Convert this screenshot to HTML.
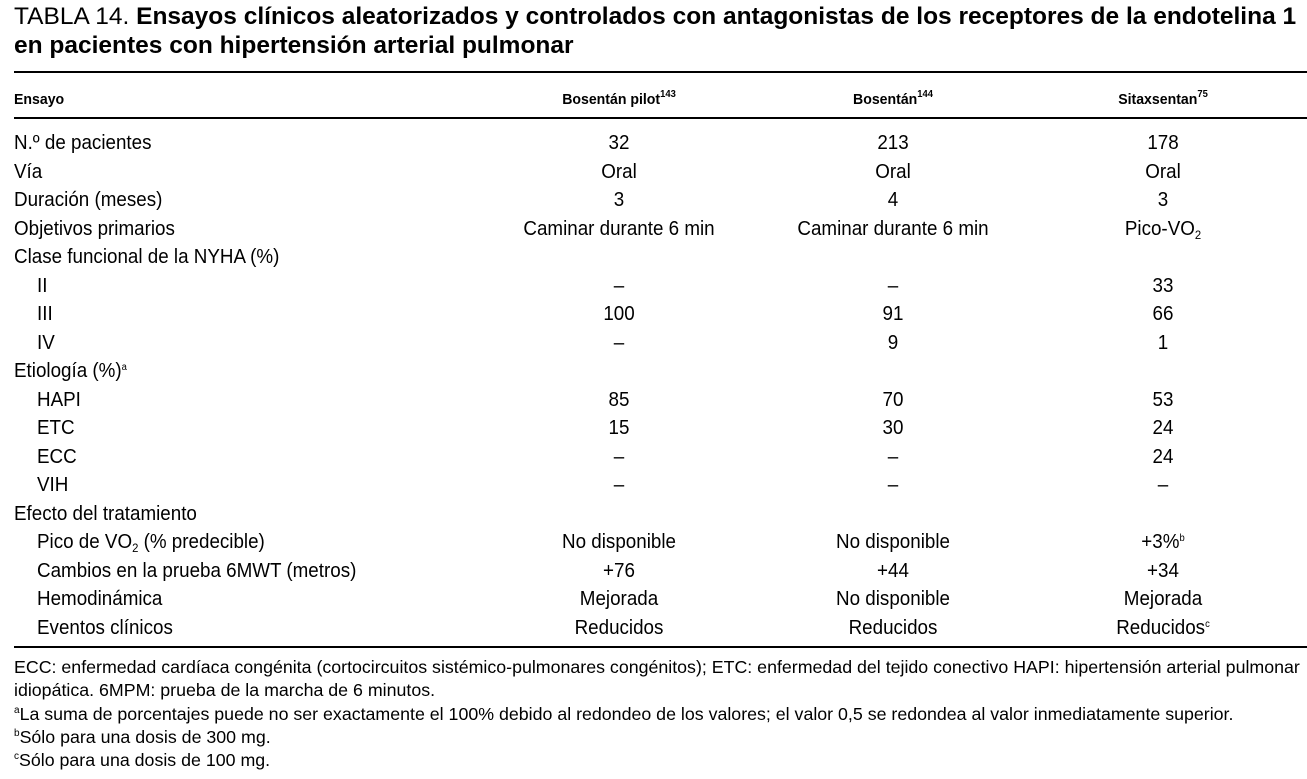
<!DOCTYPE html>
<html><head><meta charset="utf-8"><style>
body{margin:0;width:1307px;height:779px;background:#fff;overflow:hidden;position:relative;font-family:"Liberation Sans Narrow","Liberation Sans",sans-serif;color:#000}
.t{position:absolute;white-space:nowrap;font-size:20px;line-height:22px;transform-origin:left center;transform:scaleX(.94)}
.c{transform:translateX(-50%) scaleX(.94);transform-origin:center center}
.h{font-weight:bold;font-size:15px}
.rule{position:absolute;left:14px;right:0;height:2px;background:#000}
sup{font-size:10px;vertical-align:7px;line-height:0}
sub{font-size:12px;vertical-align:-4px;line-height:0}
.f{font-size:17.8px;transform:none}
.ti{font-family:'Liberation Sans',sans-serif;font-size:24.5px;transform:none}
</style></head><body>
<div class="t ti" style="left:14px;top:6px">TABLA 14. <b>Ensayos clínicos aleatorizados y controlados con antagonistas de los receptores de la endotelina 1</b></div>
<div class="t ti" style="left:14px;top:35px;font-weight:bold">en pacientes con hipertensión arterial pulmonar</div>
<div class="rule" style="top:71px"></div>
<div class="t h" style="left:14px;top:89px">Ensayo</div>
<div class="t h c" style="left:619px;top:89px">Bosentán pilot<sup>143</sup></div>
<div class="t h c" style="left:893px;top:89px">Bosentán<sup>144</sup></div>
<div class="t h c" style="left:1163px;top:89px">Sitaxsentan<sup>75</sup></div>
<div class="rule" style="top:117px"></div>
<div id="rows"></div>
<div class="rule" style="top:646px"></div>
<div class="t f" style="left:14px;top:656px">ECC: enfermedad cardíaca congénita (cortocircuitos sistémico-pulmonares congénitos); ETC: enfermedad del tejido conectivo HAPI: hipertensión arterial pulmonar</div>
<div class="t f" style="left:14px;top:679px">idiopática. 6MPM: prueba de la marcha de 6 minutos.</div>
<div class="t f" style="left:14px;top:703px"><sup>a</sup>La suma de porcentajes puede no ser exactamente el 100% debido al redondeo de los valores; el valor 0,5 se redondea al valor inmediatamente superior.</div>
<div class="t f" style="left:14px;top:726px"><sup>b</sup>Sólo para una dosis de 300 mg.</div>
<div class="t f" style="left:14px;top:749px"><sup>c</sup>Sólo para una dosis de 100 mg.</div>
<script>
const rows=[
["N.º de pacientes",0,"32","213","178"],
["Vía",0,"Oral","Oral","Oral"],
["Duración (meses)",0,"3","4","3"],
["Objetivos primarios",0,"Caminar durante 6 min","Caminar durante 6 min","Pico-VO<sub>2</sub>"],
["Clase funcional de la NYHA (%)",0,"","",""],
["II",1,"–","–","33"],
["III",1,"100","91","66"],
["IV",1,"–","9","1"],
["Etiología (%)<sup>a</sup>",0,"","",""],
["HAPI",1,"85","70","53"],
["ETC",1,"15","30","24"],
["ECC",1,"–","–","24"],
["VIH",1,"–","–","–"],
["Efecto del tratamiento",0,"","",""],
["Pico de VO<sub>2</sub> (% predecible)",1,"No disponible","No disponible","+3%<sup>b</sup>"],
["Cambios en la prueba 6MWT (metros)",1,"+76","+44","+34"],
["Hemodinámica",1,"Mejorada","No disponible","Mejorada"],
["Eventos clínicos",1,"Reducidos","Reducidos","Reducidos<sup>c</sup>"]];
const cols=[619,893,1163];
const host=document.getElementById('rows');
rows.forEach((r,i)=>{
 const y=132+i*28.5;
 const d=document.createElement('div');d.className='t';d.style.left=(r[1]?37:14)+'px';d.style.top=y+'px';d.innerHTML=r[0];
 
 
 host.appendChild(d);
 for(let k=0;k<3;k++){if(!r[2+k])continue;
  const e=document.createElement('div');e.className='t c';e.style.left=cols[k]+'px';e.style.top=y+'px';e.innerHTML=r[2+k];
  
  
  host.appendChild(e);}
});
</script>
</body></html>
